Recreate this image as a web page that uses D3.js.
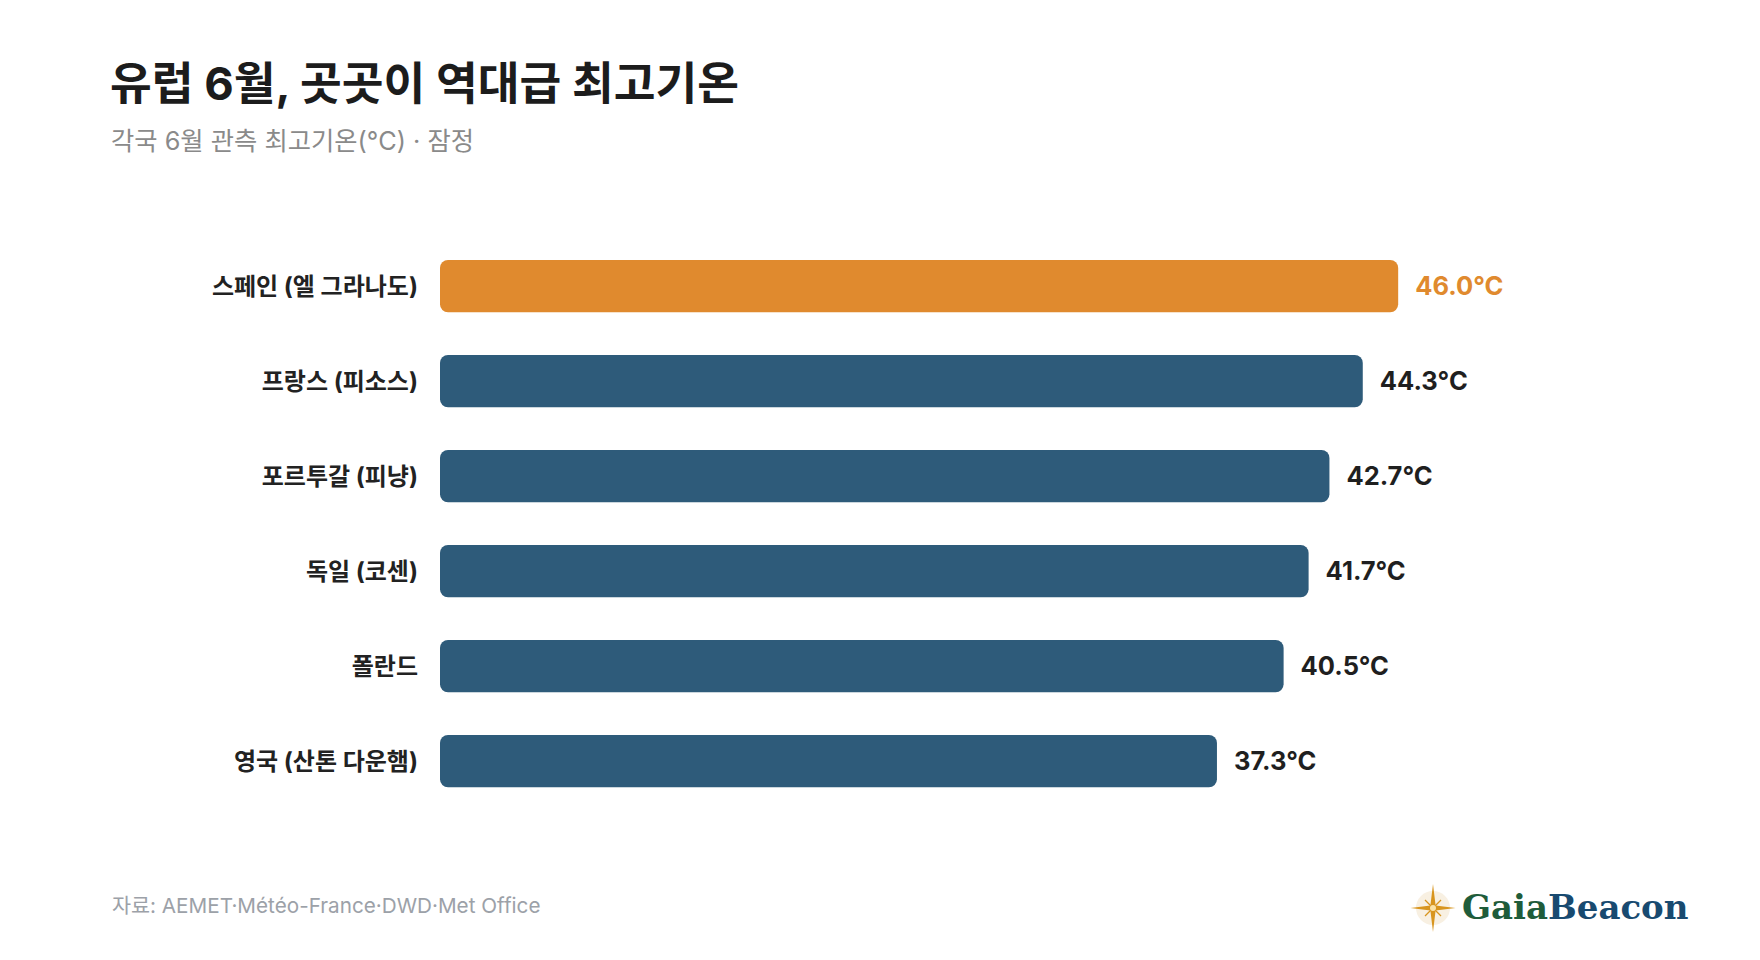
<!DOCTYPE html>
<html>
<head>
<meta charset="utf-8">
<script src="https://cdn.jsdelivr.net/npm/d3@7"></script>
<style>
  body { margin: 0; background: #fff; }
  text { font-family: Inter, "Noto Sans CJK KR", sans-serif; }
</style>
</head>
<body>
<svg id="chart"></svg>
<script>
// data
var countries = ["스페인 (엘 그라나도)", "프랑스 (피소스)", "포르투갈 (피냥)", "독일 (코센)", "폴란드", "영국 (산톤 다운햄)"];
var temps = [46.0, 44.3, 42.7, 41.7, 40.5, 37.3];
var highlighted = ["스페인 (엘 그라나도)"];

var titleText = "유럽 6월, 곳곳이 역대급 최고기온";
var subtitleText = "각국 6월 관측 최고기온(°C) · 잠정";
var sourceText = "자료: AEMET·Météo-France·DWD·Met Office";

var width = 1760, height = 960;
var orange = "#e08a2e", blue = "#2e5b7a";

var svg = d3.select("#chart")
    .attr("width", width)
    .attr("height", height);

// x scale starts at zero
var x = d3.scaleLinear()
    .domain([0, 50.6])
    .range([440, 1494]);

// one band per country
var y = d3.scaleBand()
    .domain(countries)
    .range([236.25, 811])
    .paddingInner(0.45)
    .paddingOuter(0.25);

// title + subtitle
svg.append("text")
    .attr("x", 110)
    .attr("y", 100)
    .style("font-size", "45.4px")
    .style("font-weight", 700)
    .style("fill", "#1c1c1c")
    .text(titleText);

svg.append("text")
    .attr("x", 111)
    .attr("y", 150)
    .style("font-size", "25.3px")
    .style("fill", "#8a8a8a")
    .text(subtitleText);

// bars
svg.append("g")
  .selectAll("rect")
  .data(countries)
  .join("rect")
    .attr("x", x(0))
    .attr("y", function(d) { return y(d); })
    .attr("width", function(d, i) { return x(temps[i]) - x(0); })
    .attr("height", y.bandwidth())
    .attr("rx", 8)
    .style("fill", function(d) { return highlighted.indexOf(d) > -1 ? orange : blue; });

// country names on the left
svg.append("g")
  .selectAll("text")
  .data(countries)
  .join("text")
    .attr("x", x(0) - 22)
    .attr("y", function(d) { return y(d) + y.bandwidth() / 2; })
    .attr("dy", "0.35em")
    .style("text-anchor", "end")
    .style("font-size", "24px")
    .style("font-weight", 700)
    .style("fill", "#222")
    .text(function(d) { return d; });

// value labels
svg.append("g")
  .selectAll("text")
  .data(countries)
  .join("text")
    .attr("x", function(d, i) { return x(temps[i]) + 17; })
    .attr("y", function(d) { return y(d) + y.bandwidth() / 2; })
    .attr("dy", "0.36em")
    .style("font-size", "25.5px")
    .style("font-weight", 700)
    .style("fill", function(d) { return highlighted.indexOf(d) > -1 ? orange : "#1f1f1f"; })
    .text(function(d, i) { return temps[i].toFixed(1) + "°C"; });

// source line
svg.append("text")
    .attr("x", 112)
    .attr("y", 913)
    .style("font-size", "20.7px")
    .style("fill", "#9ca1a8")
    .text(sourceText);

// logo: little star + wordmark
var logo = svg.append("g")
    .attr("transform", "translate(1433,908)");

logo.append("circle")
    .attr("r", 17)
    .style("fill", "#f8f0e2");

// diagonal small rays
logo.append("path")
    .attr("d", "M-8,-8L8,8M-8,8L8,-8")
    .style("stroke", "#d8951f")
    .style("stroke-width", 1.3);

logo.append("path")
    .attr("d", "M0,-24L2.6,-2.6L22.5,0L2.6,2.6L0,24L-2.6,2.6L-22.5,0L-2.6,-2.6Z")
    .style("fill", "#d8951f");

logo.append("circle")
    .attr("r", 3)
    .style("fill", "#fbe3a8");

var word = logo.append("text")
    .attr("x", 29)
    .attr("y", 11)
    .style("font-family", "'DejaVu Serif', serif")
    .style("font-size", "34px")
    .style("font-weight", 700);

word.append("tspan").style("fill", "#1f5c3a").text("Gaia");
word.append("tspan").style("fill", "#184a70").text("Beacon");
</script>
</body>
</html>
